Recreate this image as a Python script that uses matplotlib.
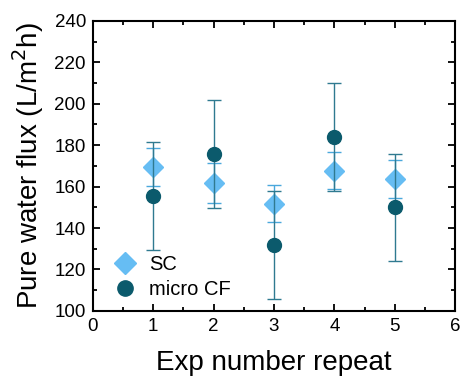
import numpy as np
import matplotlib.pyplot as plt
from matplotlib.lines import Line2D

plt.rcParams['font.family'] = ['Liberation Sans', 'DejaVu Sans']

exp = [1, 2, 3, 4, 5]
sc_flux = [169.5, 161.8, 151.8, 167.6, 163.7]
sc_err = [9, 9.5, 9, 9, 9]
cf_flux = [155.6, 175.8, 131.8, 183.8, 149.9]
cf_err = [26, 26.2, 26, 26, 26]

sc_color = '#66bdf3'
cf_color = '#0b5a6c'

fig = plt.figure(figsize=(4.62, 3.80), dpi=100)
ax = fig.add_axes([0.201, 0.182, 0.784, 0.763])

ax.errorbar(exp, sc_flux, yerr=sc_err, fmt='D', color=sc_color, ecolor='#4aa8dc',
            elinewidth=1, capsize=5, capthick=1, markersize=10, zorder=3)
ax.errorbar(exp, cf_flux, yerr=cf_err, fmt='o', color=cf_color, ecolor='#2f7a90',
            elinewidth=1, capsize=5, capthick=1, markersize=10, zorder=4)

ax.set_xlim(0, 6)
ax.set_ylim(100, 240)
ax.set_xticks(range(0, 7))
ax.set_yticks(range(100, 241, 20))
ax.set_xticks(np.arange(0.5, 6, 1), minor=True)
ax.set_yticks(range(110, 240, 20), minor=True)
ax.tick_params(which='both', direction='in', top=True, right=True, labelsize=13.5, width=1.3)
ax.tick_params(which='major', length=5, pad=5)
ax.tick_params(which='minor', length=3)
for s in ax.spines.values():
    s.set_linewidth(1.5)

ax.set_xlabel('Exp number repeat', fontsize=20, labelpad=11)
ax.set_ylabel('Pure water flux (L/m$^2$h)', fontsize=20, labelpad=6)

handles = [Line2D([], [], marker='D', ls='none', color=sc_color, markersize=11),
           Line2D([], [], marker='o', ls='none', color=cf_color, markersize=11)]
ax.legend(handles, ['SC', 'micro CF'], loc='lower left', frameon=False, fontsize=14.5,
          handletextpad=0.2, borderaxespad=0.2, labelspacing=0.3)

fig.savefig('out.png', dpi=100)
